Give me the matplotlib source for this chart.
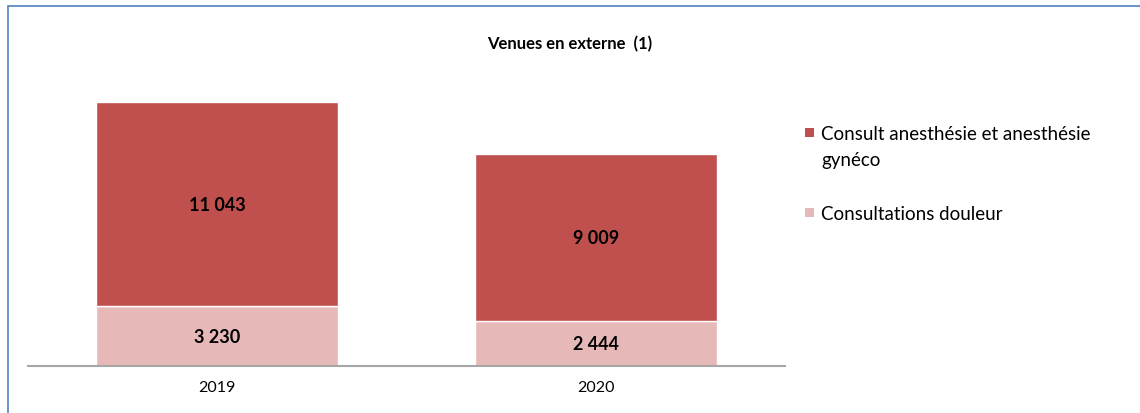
import matplotlib.pyplot as plt
from matplotlib.patches import Rectangle

plt.rcParams['font.family'] = ['Lato', 'DejaVu Sans']

years = ['2019', '2020']
douleur = [3230, 2444]
anesthesie = [11043, 9009]
series_names = ['Consult anesthésie et anesthésie\ngynéco', 'Consultations douleur']
colors = ['#C0504D', '#E6B9B8']


def fmt(v):
    return f'{v:,}'.replace(',', ' ')


fig = plt.figure(figsize=(11.4, 4.14), dpi=100)
W, H = 1140, 414
# axes: x 28..785 px, y bottom at 367 px
ax = fig.add_axes([28 / W, (H - 367) / H, (785 - 28) / W, (367 - 60) / H])

x = range(len(years))
ax.bar(x, douleur, width=0.64, color=colors[1], edgecolor='white', linewidth=1)
ax.bar(x, anesthesie, width=0.64, bottom=douleur, color=colors[0], edgecolor='white', linewidth=1)

for i in x:
    ax.text(i, douleur[i] / 2, fmt(douleur[i]), ha='center', va='center',
            fontsize=13, fontweight='bold', color='black')
    ax.text(i, douleur[i] + anesthesie[i] / 2, fmt(anesthesie[i]), ha='center', va='center',
            fontsize=13, fontweight='bold', color='black')

ax.set_xlim(-0.5, 1.5)
total_max = max(d + a for d, a in zip(douleur, anesthesie))
ax.set_ylim(0, total_max * (307 / 264))
ax.set_xticks(list(x))
ax.set_xticklabels(years, fontsize=11.5)
ax.tick_params(axis='x', length=0, pad=10)
ax.set_yticks([])
for s in ['top', 'right', 'left']:
    ax.spines[s].set_visible(False)
ax.spines['bottom'].set_color('#A6A6A6')
ax.spines['bottom'].set_linewidth(1.5)

fig.text(570 / W, 1 - 44 / H, 'Venues en externe  (1)', ha='center', va='center',
         fontsize=12, fontweight='bold')

# legend, drawn by hand so the swatch sits on the first text line
legend_rows = [133, 213]
for name, color, yp in zip(series_names, colors, legend_rows):
    fig.patches.append(Rectangle((805 / W, 1 - (yp + 4.5) / H), 9 / W, 9 / H,
                                 transform=fig.transFigure, facecolor=color, edgecolor='none'))
    fig.text(821 / W, 1 - (yp - 7) / H, name, ha='left', va='top', fontsize=13.5,
             linespacing=1.65)

# chart border (top and left only visible)
fig.patches.append(Rectangle((7.5 / W, -0.1), 1.2, 1 - 6.5 / H + 0.1, transform=fig.transFigure,
                             fill=False, edgecolor='#4F81BD', linewidth=1.2))

fig.savefig('out.png', dpi=100)
